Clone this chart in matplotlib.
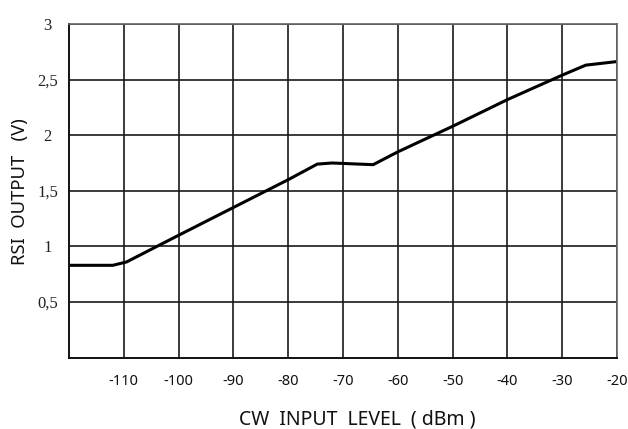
import matplotlib
matplotlib.use("Agg")
import matplotlib.pyplot as plt
from matplotlib.ticker import FixedLocator, FuncFormatter

plt.rcParams["axes.unicode_minus"] = False

# RSI output voltage versus CW input level
input_dbm = [-120, -112, -109.5, -100, -90, -80, -74.7, -72, -64.5,
             -60, -50, -40, -30, -25.7, -20.4]
rsi_volts = [0.83, 0.83, 0.86, 1.10, 1.35, 1.60, 1.74, 1.75, 1.735,
             1.85, 2.08, 2.32, 2.54, 2.63, 2.66]

x_ticks = [-110, -100, -90, -80, -70, -60, -50, -40, -30, -20]
y_ticks = [0.5, 1, 1.5, 2, 2.5, 3]

fig = plt.figure(figsize=(6.28, 4.29), dpi=100)
ax = fig.add_axes([69 / 628, 1 - 357.6 / 429, (617 - 69) / 628, (357.6 - 24) / 429])

ax.set_xlim(-120, -20)
ax.set_ylim(0, 3)
ax.xaxis.set_major_locator(FixedLocator(x_ticks))
ax.yaxis.set_major_locator(FixedLocator(y_ticks))
ax.xaxis.set_major_formatter(FuncFormatter(lambda v, p: f"{v:g}"))
ax.yaxis.set_major_formatter(FuncFormatter(lambda v, p: f"{v:g}".replace(".", ",")))

ax.grid(True, color="#1a1a1a", linewidth=1.2)
ax.set_axisbelow(True)
for side in ("top", "right"):
    ax.spines[side].set_color("#666666")
    ax.spines[side].set_linewidth(1.2)
for side in ("left", "bottom"):
    ax.spines[side].set_color("#111111")
    ax.spines[side].set_linewidth(1.4)

ax.tick_params(axis="both", length=0)
ax.tick_params(axis="x", pad=11.5, labelsize=10.5, labelcolor="#111111")
ax.tick_params(axis="y", pad=15.5, labelsize=12, labelcolor="#222222")
for lbl in ax.get_yticklabels():
    lbl.set_family("Liberation Serif")
    lbl.set_horizontalalignment("center")
for lbl in ax.get_xticklabels():
    lbl.set_family("Noto Sans")

ax.plot(input_dbm, rsi_volts, color="black", linewidth=2.2, solid_joinstyle="round")

fig.text(357.5 / 628, 1 - 419 / 429, "CW  INPUT  LEVEL  ( dBm )", ha="center", va="center",
         fontsize=14, family="Noto Sans", color="#111111")
fig.text(20 / 628, 1 - 192 / 429, "RSI  OUTPUT   (V)", ha="center", va="center",
         rotation=90, fontsize=13.3, family="Noto Sans", color="#111111")

fig.savefig("out.png", dpi=100, facecolor="white")
